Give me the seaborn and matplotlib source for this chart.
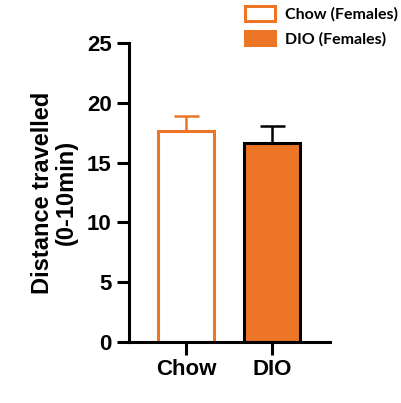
import matplotlib
matplotlib.use("Agg")
import matplotlib.pyplot as plt
from matplotlib.patches import Patch
import pandas as pd
import seaborn as sns

# values
groups = ["Chow", "DIO"]
means = [17.6, 16.6]
sems = [1.3, 1.5]
legend_labels = ["Chow (Females)", "DIO (Females)"]

orange = "#ED7526"

sns.set_style("ticks")
plt.rcParams["font.family"] = ["Liberation Sans", "DejaVu Sans"]
plt.rcParams["text.color"] = "black"
plt.rcParams["axes.labelcolor"] = "black"
plt.rcParams["xtick.color"] = "black"
plt.rcParams["ytick.color"] = "black"
plt.rcParams["axes.edgecolor"] = "black"

df = pd.DataFrame({"group": groups, "mean": means, "sem": sems})

fig = plt.figure(figsize=(4.01, 4.03), dpi=100)
ax = fig.add_axes([0.3217, 0.1514, 0.5013, 0.7419])

sns.barplot(data=df, x="group", y="mean", ax=ax, width=0.65,
            palette=["white", orange], hue="group", legend=False,
            errorbar=None, linewidth=0, saturation=1)

edge_cols = [orange, "black"]
for bar, ec in zip(ax.patches, edge_cols):
    bar.set_edgecolor(ec)
    bar.set_linewidth(2.2)

# upper error bars only
for i, (m, s) in enumerate(zip(means, sems)):
    ax.errorbar(i, m, yerr=[[0], [s]], color=edge_cols[i], capsize=9,
                capthick=1.8, elinewidth=1.8, zorder=1)

ax.set_xlim(-0.663, 1.674)
ax.set_ylim(0, 25)
ax.set_yticks([0, 5, 10, 15, 20, 25])
ax.set_xlabel("")
ax.set_ylabel("Distance travelled\n(0-10min)", fontsize=17, fontweight="bold",
              linespacing=1.05)
ax.yaxis.set_label_coords(-0.255, 0.5)
sns.despine(ax=ax)
for sp in ["left", "bottom"]:
    ax.spines[sp].set_linewidth(2.2)
ax.tick_params(axis="both", width=2.2, length=9, labelsize=16)
for lab in ax.get_xticklabels() + ax.get_yticklabels():
    lab.set_fontweight("bold")

handles = [Patch(facecolor="white", edgecolor=orange, linewidth=2.2),
           Patch(facecolor=orange, edgecolor=orange, linewidth=2.2)]
fig.legend(handles, legend_labels, loc="upper left", bbox_to_anchor=(0.575, 1.02),
           frameon=False, handlelength=1.9, handleheight=1.0, handletextpad=0.6,
           labelspacing=0.55, prop={"family": ["Lato", "DejaVu Sans"],
                                    "weight": "bold", "size": 11.5})

fig.savefig("out.png", dpi=100)
